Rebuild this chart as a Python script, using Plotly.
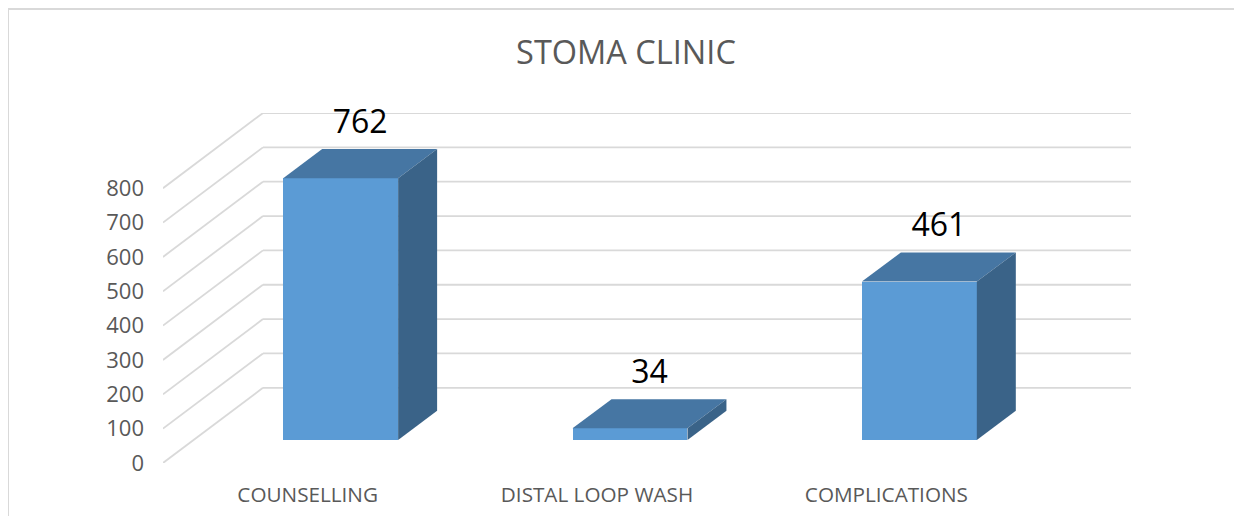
import plotly.graph_objects as go

# ---- data ----
categories = ["COUNSELLING", "DISTAL LOOP WASH", "COMPLICATIONS"]
values = [762, 34, 461]
y_ticks = [0, 100, 200, 300, 400, 500, 600, 700, 800]
title_text = "STOMA CLINIC"

# ---- 3D (oblique) geometry, in axis units ----
PX_X = 289.5            # px per category unit
PX_Y = 0.3425           # px per value unit
WALL_DX = 100 / PX_X    # floor depth shift (x units)
WALL_DY = 75 / PX_Y     # floor depth shift (value units)
BAR_X0 = 33 / PX_X      # bar front face offset from front plane
BAR_Y0 = 23 / PX_Y
BAR_DX = 39 / PX_X      # bar depth
BAR_DY = 29 / PX_Y
BAR_W = 115 / PX_X
LABEL_PAD = 8 / PX_Y

FRONT = "#5B9BD5"
TOP = "#4676A3"
SIDE = "#3A6388"
GRID = "#D9D9D9"

x_lo, x_hi = -0.5, len(categories) - 0.5 + WALL_DX
y_hi = max(y_ticks) + WALL_DY

fig = go.Figure()

# front faces
xs = [i + BAR_X0 for i in range(len(categories))]
fig.add_trace(go.Bar(x=xs, y=values, base=BAR_Y0, width=BAR_W,
                     marker=dict(color=FRONT, line=dict(width=0)),
                     hoverinfo="skip", showlegend=False))

# top & side faces
for xc, v in zip(xs, values):
    xl, xr = xc - BAR_W / 2, xc + BAR_W / 2
    yb, yt = BAR_Y0, BAR_Y0 + v
    fig.add_trace(go.Scatter(
        x=[xl, xr, xr + BAR_DX, xl + BAR_DX, xl],
        y=[yt, yt, yt + BAR_DY, yt + BAR_DY, yt],
        fill="toself", fillcolor=TOP, mode="lines", line=dict(width=0, color=TOP),
        hoverinfo="skip", showlegend=False))
    fig.add_trace(go.Scatter(
        x=[xr, xr, xr + BAR_DX, xr + BAR_DX, xr],
        y=[yb, yt, yt + BAR_DY, yb + BAR_DY, yb],
        fill="toself", fillcolor=SIDE, mode="lines", line=dict(width=0, color=SIDE),
        hoverinfo="skip", showlegend=False))

# data labels
fig.add_trace(go.Scatter(
    x=[xc + BAR_DX / 2 for xc in xs],
    y=[BAR_Y0 + v + BAR_DY + LABEL_PAD for v in values],
    mode="text", text=[str(v) for v in values], textposition="top center",
    textfont=dict(family="Open Sans", size=32, color="#000000"),
    cliponaxis=False, hoverinfo="skip", showlegend=False))

# gridlines (side wall diagonal + back wall horizontal)
shapes = []
for t in y_ticks:
    shapes.append(dict(type="line", xref="x", yref="y", layer="below",
                       x0=x_lo, y0=t, x1=x_lo + WALL_DX, y1=t + WALL_DY,
                       line=dict(color=GRID, width=1.8)))
    shapes.append(dict(type="line", xref="x", yref="y", layer="below",
                       x0=x_lo + WALL_DX, y0=t + WALL_DY, x1=x_hi, y1=t + WALL_DY,
                       line=dict(color=GRID, width=1.8)))

# layout (page is offset by the 8px body margin; keep figure inside viewport)
OFF = 8
W, H = 1242 - 2 * OFF, 524 - 2 * OFF
L, T = 163 - OFF, 113 - OFF
R = W - (1131 - OFF)
B = H - (463 - OFF)
pw, ph = W - L - R, H - T - B
def px2paper_x(px): return (px - OFF - L) / pw
def px2paper_y(py): return (H - B - (py - OFF)) / ph

# chart border (right/bottom edges fall outside the picture)
shapes.append(dict(type="rect", xref="paper", yref="paper", layer="below",
                   x0=px2paper_x(8), x1=px2paper_x(1300),
                   y0=px2paper_y(600), y1=px2paper_y(9),
                   line=dict(color=GRID, width=2), fillcolor="rgba(0,0,0,0)"))

fig.update_layout(
    width=W, height=H,
    margin=dict(l=L, r=R, t=T, b=B, autoexpand=False),
    paper_bgcolor="white", plot_bgcolor="white",
    shapes=shapes,
    title=dict(text=title_text, x=(626 - OFF) / W, xanchor="center",
               y=1 - (53 - OFF) / H, yanchor="middle", yref="container",
               font=dict(family="Open Sans", size=32.5, color="#595959")),
    xaxis=dict(range=[x_lo, x_hi], tickvals=list(range(len(categories))),
               ticktext=categories, showgrid=False, zeroline=False, showline=False,
               ticks="", ticklabelstandoff=17, automargin=False,
               tickfont=dict(family="Open Sans", size=20.7, color="#595959")),
    yaxis=dict(range=[0, y_hi], tickvals=y_ticks, showgrid=False, zeroline=False,
               showline=False, ticks="", ticklabelstandoff=18, automargin=False,
               tickfont=dict(family="Open Sans", size=22, color="#595959")),
    bargap=0,
)

fig.write_html("out.html")
